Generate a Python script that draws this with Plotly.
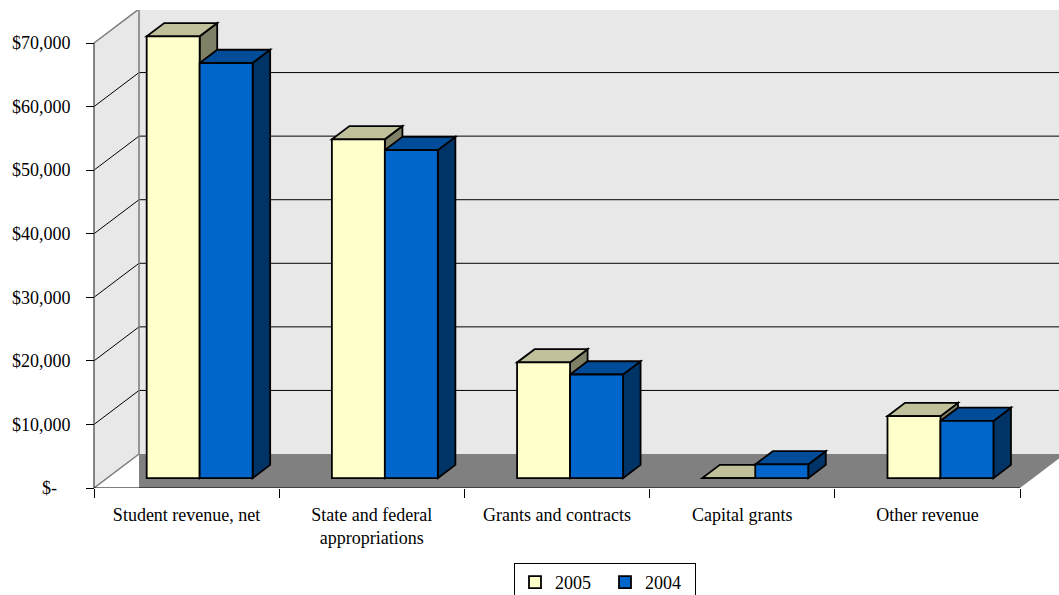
import plotly.graph_objects as go

# ---------------- data ----------------
categories = ["Student revenue, net", "State and federal<br>appropriations",
              "Grants and contracts", "Capital grants", "Other revenue"]
series_names = ["2005", "2004"]
values_2005 = [69500, 53300, 18200, 0, 9750]
values_2004 = [65300, 51600, 16300, 2150, 9000]
y_tick_values = [0, 10000, 20000, 30000, 40000, 50000, 60000, 70000]
y_tick_labels = ["$-\u00a0\u00a0\u00a0", "$10,000", "$20,000", "$30,000",
                 "$40,000", "$50,000", "$60,000", "$70,000"]

# ---------------- layout geometry ----------------
W, H = 1059, 595
ML, MT, MB, MR = 88, 10, 107, 0
PLOT_W = W - ML - MR
PLOT_H = H - MT - MB
AXIS_PX = 94            # px of the front value axis
CAT_PX = 185.2          # px per category
YMAX = 70000
Y_PX = 445              # px for 0..YMAX on the front plane
x_range = [-0.5 - (AXIS_PX - ML) / CAT_PX, -0.5 + (W - MR - AXIS_PX) / CAT_PX]
y_range = [0, YMAX * PLOT_H / Y_PX]

DX = 45 / CAT_PX                # full depth, x units
DY = 34 * YMAX / Y_PX           # full depth, y units
F0, F1 = 0.29, 0.68             # bar front / back depth fractions
BW = 0.286                      # bar width
n = len(categories)
XL, XR = -0.5, n - 0.5

face_cols = {
    "2005": dict(front="#FFFFCC", top="#C0C09A", side="#808066"),
    "2004": dict(front="#0066CC", top="#004C99", side="#003366"),
}

WALL = "#E8E8E8"
FLOOR = "#808080"
EDGE = "#7A7A7A"

shapes = []


def path(pts):
    return "M " + " L ".join(f"{x},{y}" for x, y in pts) + " Z"


def poly(pts, fill, line_color="black", width=1.8):
    shapes.append(dict(type="path", path=path(pts), xref="x", yref="y",
                       fillcolor=fill, line=dict(color=line_color, width=width),
                       layer="below"))


def seg(x0, y0, x1, y1, color, width):
    shapes.append(dict(type="line", x0=x0, y0=y0, x1=x1, y1=y1, xref="x", yref="y",
                       line=dict(color=color, width=width), layer="below"))


# walls and floor
poly([(XL, 0), (XL, YMAX), (XL + DX, YMAX + DY), (XL + DX, DY)], WALL, WALL, 0)
poly([(XL + DX, DY), (XL + DX, YMAX + DY), (XR + DX, YMAX + DY), (XR + DX, DY)], WALL, WALL, 0)
poly([(XL + DX, 0), (XL + DX, DY), (XR + DX, DY), (XR, 0)], FLOOR, FLOOR, 0)

# gridlines
for v in y_tick_values[1:-1]:
    seg(XL, v, XL + DX, v + DY, "black", 1)
    seg(XL + DX, v + DY, XR + DX, v + DY, "black", 1)

# wall edges
seg(XL, 0, XL + DX, DY, EDGE, 1.5)
seg(XL, YMAX, XL + DX, YMAX + DY, EDGE, 1.5)
seg(XL + DX, DY, XL + DX, YMAX + DY, EDGE, 1.5)
seg(XL + DX, YMAX + DY, XR + DX, YMAX + DY, EDGE, 1.5)
seg(XL, 0, XL, YMAX, "#606060", 1.5)
seg(XL, 0, XR, 0, "black", 1.2)

# 3-D faces (top and side) of bars, painter's order
sx0, sy0 = F0 * DX, F0 * DY
sx1, sy1 = F1 * DX, F1 * DY
ddx, ddy = sx1 - sx0, sy1 - sy0
series_vals = {"2005": values_2005, "2004": values_2004}
offsets = {"2005": -BW / 2, "2004": BW / 2}
for i in range(n):
    for s in series_names:
        v = series_vals[s][i]
        xc = i + sx0 + offsets[s]
        xl, xr = xc - BW / 2, xc + BW / 2
        cols = face_cols[s]
        poly([(xr, sy0), (xr, sy0 + v), (xr + ddx, sy1 + v), (xr + ddx, sy1)], cols["side"])
        poly([(xl, sy0 + v), (xr, sy0 + v), (xr + ddx, sy1 + v), (xl + ddx, sy1 + v)], cols["top"])

fig = go.Figure()
for s in series_names:
    fig.add_trace(go.Bar(
        name=s,
        x=[i + sx0 + offsets[s] for i in range(n)],
        y=series_vals[s],
        base=[sy0] * n,
        width=[BW] * n,
        marker=dict(color=face_cols[s]["front"], line=dict(color="black", width=1.8)),
        hoverinfo="skip",
    ))

FONT = "Liberation Serif, Times New Roman, serif"
fig.update_layout(
    width=W, height=H,
    margin=dict(l=ML, r=MR, t=MT, b=MB, autoexpand=False),
    paper_bgcolor="white", plot_bgcolor="white",
    barmode="overlay",
    showlegend=True,
    font=dict(family=FONT, size=18, color="black"),
    shapes=shapes,
    legend=dict(orientation="h", xanchor="center", yanchor="top",
                x=(605 - ML) / PLOT_W, y=(488 - 563) / PLOT_H,
                bordercolor="black", borderwidth=1, bgcolor="white",
                font=dict(family=FONT, size=18, color="black"),
                itemwidth=30, entrywidth=45, entrywidthmode="pixels",
                itemclick=False, itemdoubleclick=False),
    xaxis=dict(range=x_range, showgrid=False, zeroline=False, showline=False,
               tickmode="array", tickvals=list(range(n)), ticktext=categories,
               ticks="", ticklabelstandoff=14,
               minor=dict(tickmode="array", tickvals=[k - 0.5 for k in range(n + 1)],
                          ticks="outside", ticklen=9, tickcolor="black", tickwidth=1),
               fixedrange=True),
    yaxis=dict(range=y_range, showgrid=False, zeroline=False, showline=False,
               anchor="free", position=(AXIS_PX - ML) / PLOT_W,
               tickmode="array", tickvals=y_tick_values, ticktext=y_tick_labels,
               ticks="outside", ticklen=8, tickcolor="black", tickwidth=1,
               ticklabelstandoff=12, fixedrange=True),
)

fig.write_html("out.html")
